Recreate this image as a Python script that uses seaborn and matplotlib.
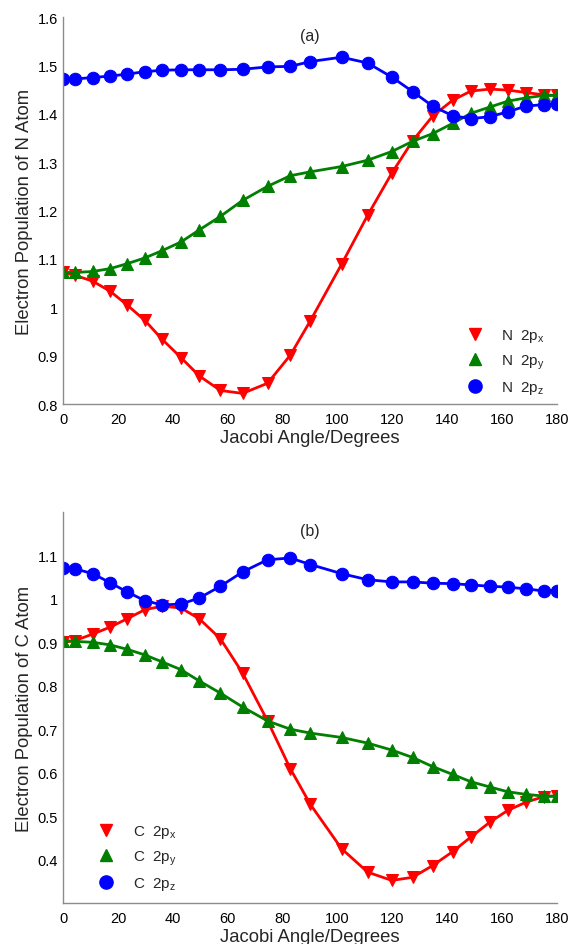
import matplotlib
matplotlib.use("Agg")
import matplotlib.pyplot as plt
import seaborn as sns
import numpy as np
import pandas as pd
from matplotlib.lines import Line2D
from matplotlib.ticker import FuncFormatter

sns.set_style("white")
plt.rcParams['font.family'] = ['Liberation Sans', 'DejaVu Sans']
plt.rcParams['mathtext.fontset'] = 'custom'
plt.rcParams['mathtext.rm'] = 'Liberation Sans'
plt.rcParams['mathtext.it'] = 'Liberation Sans'

angles = [0, 4.3, 10.7, 17.1, 23.2, 29.7, 36.0, 42.9, 49.6, 57.3, 65.4, 74.5, 82.8,
          90.1, 101.5, 111.0, 119.8, 127.4, 134.7, 142.0, 148.7, 155.6, 162.1, 168.8, 175.4, 180]

n_2px = [1.072, 1.066, 1.054, 1.033, 1.005, 0.973, 0.934, 0.896, 0.858, 0.828, 0.822, 0.843, 0.901,
         0.972, 1.089, 1.190, 1.277, 1.344, 1.395, 1.428, 1.447, 1.451, 1.449, 1.444, 1.439, 1.438]
n_2py = [1.072, 1.072, 1.074, 1.080, 1.090, 1.102, 1.117, 1.135, 1.160, 1.188, 1.221, 1.250, 1.272,
         1.280, 1.291, 1.304, 1.322, 1.343, 1.359, 1.380, 1.401, 1.414, 1.426, 1.433, 1.438, 1.438]
n_2pz = [1.472, 1.472, 1.475, 1.478, 1.482, 1.487, 1.490, 1.491, 1.491, 1.491, 1.492, 1.497, 1.498,
         1.508, 1.517, 1.505, 1.476, 1.446, 1.416, 1.396, 1.390, 1.394, 1.404, 1.416, 1.419, 1.421]

c_2px = [0.900, 0.904, 0.919, 0.935, 0.954, 0.975, 0.983, 0.979, 0.954, 0.908, 0.829, 0.719, 0.609,
         0.527, 0.425, 0.371, 0.352, 0.359, 0.386, 0.418, 0.452, 0.486, 0.513, 0.532, 0.545, 0.546]
c_2py = [0.904, 0.902, 0.900, 0.894, 0.884, 0.871, 0.855, 0.837, 0.811, 0.783, 0.751, 0.719, 0.700,
         0.691, 0.681, 0.668, 0.652, 0.635, 0.614, 0.596, 0.579, 0.567, 0.556, 0.550, 0.546, 0.546]
c_2pz = [1.072, 1.069, 1.058, 1.037, 1.016, 0.996, 0.986, 0.988, 1.002, 1.029, 1.062, 1.090, 1.094,
         1.079, 1.058, 1.044, 1.039, 1.039, 1.036, 1.035, 1.032, 1.029, 1.027, 1.023, 1.018, 1.018]

x_ticks = [0, 20, 40, 60, 80, 100, 120, 140, 160, 180]
top_yticks = [0.8, 0.9, 1.0, 1.1, 1.2, 1.3, 1.4, 1.5, 1.6]
bot_yticks = [0.4, 0.5, 0.6, 0.7, 0.8, 0.9, 1.0, 1.1]

RED, GREEN, BLUE = '#ff0000', '#007f00', '#0000ff'
styles = [('v', RED, 'x'), ('^', GREEN, 'y'), ('o', BLUE, 'z')]

fig = plt.figure(figsize=(5.71, 9.45), dpi=100)
ax1 = fig.add_axes([0.111, 0.5714, 0.864, 0.4095])
ax2 = fig.add_axes([0.111, 0.0434, 0.864, 0.4138])

def draw(ax, series, atom, ylim, yticks, title, leg_anchor):
    for vals, (mk, col, sub) in zip(series, styles):
        df = pd.DataFrame({'angle': angles, 'pop': vals})
        sns.lineplot(data=df, x='angle', y='pop', ax=ax, color=col, lw=2.0,
                     marker=mk, markersize=9 if mk == 'o' else 8,
                     markeredgecolor=col, markerfacecolor=col, sort=False, estimator=None)
    ax.set_xlim(0, 180)
    ax.set_ylim(*ylim)
    ax.set_xticks(x_ticks)
    ax.set_yticks(yticks)
    ax.yaxis.set_major_formatter(FuncFormatter(lambda v, p: ('%g' % round(v, 2))))
    for s in ['top', 'right']:
        ax.spines[s].set_visible(False)
    for s in ['left', 'bottom']:
        ax.spines[s].set_color('#8c8c8c')
        ax.spines[s].set_linewidth(1.0)
    ax.tick_params(direction='in', length=4, width=0.8, color='#555555',
                   labelsize=10.5, labelcolor='black')
    ax.tick_params(axis='x', pad=6)
    ax.tick_params(axis='y', pad=4)
    ax.set_xlabel('Jacobi Angle/Degrees', fontsize=13.3, labelpad=2)
    ax.set_ylabel('Electron Population of %s Atom' % atom, fontsize=13.3, labelpad=3)
    ax.text(0.5, 0.953, title, transform=ax.transAxes,
            ha='center', va='center', fontsize=11.5)
    handles = [Line2D([], [], ls='none', marker=mk, color=col, markersize=9.5 if mk == 'o' else 9)
               for mk, col, sub in styles]
    labels = ['%s  2p$_{\\mathregular{%s}}$' % (atom, sub) for mk, col, sub in styles]
    ax.legend(handles, labels, loc='upper left', bbox_to_anchor=leg_anchor, frameon=False,
              fontsize=11, handletextpad=0.75, labelspacing=0.55, borderaxespad=0)

draw(ax1, [n_2px, n_2py, n_2pz], 'N', (0.8, 1.6), top_yticks, '(a)', (0.79, 0.215))
draw(ax2, [c_2px, c_2py, c_2pz], 'C', (0.3, 1.2), bot_yticks, '(b)', (0.043, 0.22))

fig.savefig('out.png', dpi=100)
